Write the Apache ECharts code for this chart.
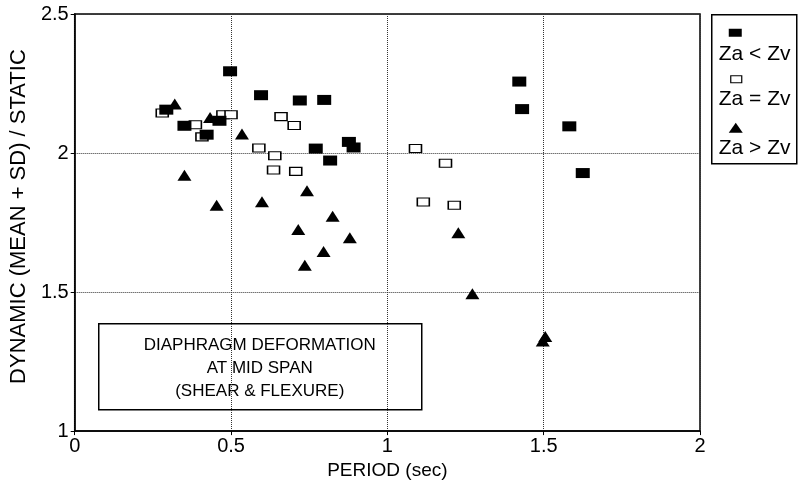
<!DOCTYPE html>
<html>
<head>
<meta charset="utf-8">
<script src="https://cdn.jsdelivr.net/npm/echarts@6/dist/echarts.min.js"></script>
<style>
html, body { margin: 0; padding: 0; background: #fff; }
#chart { width: 798px; height: 485px; }
</style>
</head>
<body>
<div id="chart"></div>
<script>
// tick values
var periodTicks = [0, 0.5, 1, 1.5, 2];
var ratioTicks = [1, 1.5, 2, 2.5];

// Za < Zv (filled squares)
var lessPeriod = [0.293, 0.351, 0.422, 0.463, 0.497, 0.596, 0.720, 0.798, 0.771, 0.877, 0.892, 0.817, 1.422, 1.431, 1.582, 1.625];
var lessRatio  = [2.156, 2.098, 2.066, 2.116, 2.294, 2.208, 2.189, 2.191, 2.016, 2.040, 2.020, 1.973, 2.257, 2.158, 2.096, 1.928];

// Za = Zv (open squares)
var equalPeriod = [0.280, 0.386, 0.407, 0.474, 0.500, 0.589, 0.660, 0.702, 0.640, 0.636, 0.707, 1.090, 1.186, 1.115, 1.214];
var equalRatio  = [2.144, 2.102, 2.058, 2.138, 2.138, 2.018, 2.131, 2.099, 1.990, 1.939, 1.934, 2.016, 1.963, 1.824, 1.812];

// Za > Zv (triangles)
var greaterPeriod = [0.320, 0.433, 0.535, 0.351, 0.454, 0.599, 0.743, 0.825, 0.715, 0.880, 0.796, 0.736, 1.227, 1.272, 1.505, 1.497];
var greaterRatio  = [2.176, 2.128, 2.068, 1.920, 1.812, 1.825, 1.864, 1.773, 1.725, 1.695, 1.646, 1.596, 1.713, 1.494, 1.340, 1.324];

function pairs(xs, ys) {
    var out = [];
    for (var i = 0; i < xs.length; i++) out.push([xs[i], ys[i]]);
    return out;
}

var font = "'Liberation Sans', Arial, sans-serif";
var gridLine = { show: true, lineStyle: { color: '#333', width: 1, type: [1, 1] } };

var myChart = echarts.init(document.getElementById('chart'));
var option = {
    animation: false,
    backgroundColor: '#fff',
    grid: {
        left: 73, right: 98, top: 14, bottom: 53,
        show: true, borderColor: '#000', borderWidth: 1.5
    },
    xAxis: {
        type: 'value',
        min: periodTicks[0], max: periodTicks[periodTicks.length - 1], interval: 0.5,
        name: 'PERIOD (sec)', nameLocation: 'middle', nameGap: 26,
        nameTextStyle: { fontFamily: font, fontSize: 19, color: '#000' },
        axisLine: { lineStyle: { color: '#000', width: 1.5 } },
        axisTick: { show: true, length: 4, lineStyle: { color: '#000' } },
        axisLabel: { fontFamily: font, fontSize: 20, color: '#000', margin: 5 },
        splitLine: gridLine
    },
    yAxis: {
        type: 'value',
        min: ratioTicks[0], max: ratioTicks[ratioTicks.length - 1], interval: 0.5,
        name: 'DYNAMIC (MEAN + SD) / STATIC', nameLocation: 'middle', nameGap: 42,
        nameTextStyle: { fontFamily: font, fontSize: 22, color: '#000', padding: [0, 0, 0, 12] },
        axisLine: { lineStyle: { color: '#000', width: 1.5 } },
        axisTick: { show: true, length: 4, lineStyle: { color: '#000' } },
        axisLabel: { fontFamily: font, fontSize: 20, color: '#000', margin: 6 },
        splitLine: gridLine
    },
    series: [
        {
            name: 'Za = Zv', type: 'scatter',
            data: pairs(equalPeriod, equalRatio),
            symbol: 'rect', symbolSize: [12, 8],
            itemStyle: { color: '#fff', borderColor: '#000', borderWidth: 1.3, opacity: 1 }
        },
        {
            name: 'Za < Zv', type: 'scatter',
            data: pairs(lessPeriod, lessRatio),
            symbol: 'rect', symbolSize: [14, 10],
            itemStyle: { color: '#000', opacity: 1 }
        },
        {
            name: 'Za > Zv', type: 'scatter',
            data: pairs(greaterPeriod, greaterRatio),
            symbol: 'triangle', symbolSize: [14, 11],
            itemStyle: { color: '#000', opacity: 1 }
        }
    ],
    graphic: [
        // legend box
        {
            type: 'group', left: 711, top: 14,
            children: [
                { type: 'rect', shape: { x: 0, y: 0, width: 85, height: 149 }, style: { fill: '#fff', stroke: '#000', lineWidth: 1.5 } },
                { type: 'rect', shape: { x: 17, y: 14, width: 13, height: 8 }, style: { fill: '#000' } },
                { type: 'text', x: 7, y: 29, style: { text: 'Za < Zv', font: '21px ' + font, fill: '#000' } },
                { type: 'rect', shape: { x: 19, y: 61, width: 11, height: 7 }, style: { fill: '#fff', stroke: '#000', lineWidth: 1.2 } },
                { type: 'text', x: 7, y: 74, style: { text: 'Za = Zv', font: '21px ' + font, fill: '#000' } },
                { type: 'polygon', shape: { points: [[24, 108], [17, 118], [31, 118]] }, style: { fill: '#000' } },
                { type: 'text', x: 7, y: 123, style: { text: 'Za > Zv', font: '21px ' + font, fill: '#000' } }
            ]
        },
        // annotation box
        {
            type: 'group', left: 98, top: 323,
            children: [
                { type: 'rect', shape: { x: 0, y: 0, width: 323, height: 86 }, style: { fill: '#fff', stroke: '#000', lineWidth: 1.5 } },
                {
                    type: 'text', x: 161, y: 10,
                    style: {
                        text: 'DIAPHRAGM DEFORMATION\nAT MID SPAN\n(SHEAR & FLEXURE)',
                        font: '17px ' + font, fill: '#000', align: 'center', lineHeight: 23
                    }
                }
            ]
        }
    ]
};
myChart.setOption(option);
</script>
</body>
</html>
